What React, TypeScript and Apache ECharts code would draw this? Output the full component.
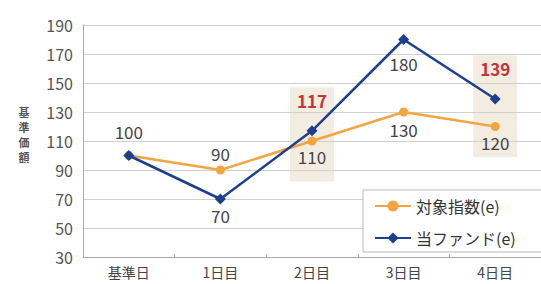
import React, { useEffect, useRef } from "react";
import * as echarts from "echarts";

const categories = ["基準日", "1日目", "2日目", "3日目", "4日目"];
const indexName = "対象指数(e)";
const fundName = "当ファンド(e)";
const indexValues = [100, 90, 110, 130, 120];
const fundValues = [100, 70, 117, 180, 139];
const yMin = 30;
const yMax = 190;
const yStep = 20;
const yAxisTitle = "基準価額";

// label placement (style only)
const indexLabelPos = [
  { position: "top", distance: 11 },
  { position: "top", distance: 4 },
  { position: "bottom", distance: 2 },
  { position: "bottom", distance: 4 },
  { position: "bottom", distance: 3 },
];
const fundLabelPos = [
  null,
  { position: "bottom", distance: 2 },
  { position: "top", distance: 16, red: true },
  { position: "bottom", distance: 10 },
  { position: "top", distance: 16, red: true },
];
const highlightBoxes = [
  { cat: "2日目", top: 147, bottom: 82 },
  { cat: "4日目", top: 169, bottom: 99 },
];

const FONT = "'Noto Sans CJK JP', 'Noto Sans', sans-serif";
const ORANGE = "#f2a541";
const BLUE = "#1c3f8e";
const RED = "#c8303a";
const TEXT = "#444";

export default function App() {
  const ref = useRef<HTMLDivElement>(null);
  useEffect(() => {
    if (!ref.current) return;
    const chart = echarts.init(ref.current, undefined, { renderer: "svg" });
    const option: any = {
      animation: false,
      textStyle: { fontFamily: FONT },
      grid: { left: 83, right: -9, top: 25, bottom: 27, containLabel: false },
      xAxis: {
        type: "category",
        data: categories,
        boundaryGap: true,
        axisLine: { lineStyle: { color: "#aaa", width: 1 } },
        axisTick: { show: true, length: 3, inside: true, lineStyle: { color: "#aaa" } },
        axisLabel: { color: TEXT, fontSize: 14, margin: 8, fontFamily: FONT },
      },
      yAxis: {
        type: "value",
        min: yMin,
        max: yMax,
        interval: yStep,
        axisLine: { show: true, lineStyle: { color: "#aaa", width: 1 } },
        axisTick: { show: false },
        axisLabel: { color: "#555", fontSize: 16, margin: 10, fontFamily: FONT },
        splitLine: { lineStyle: { color: "#d0d0d0", width: 1 } },
      },
      legend: {
        orient: "vertical",
        left: 363,
        top: 190,
        padding: [8, 40, 6, 11],
        itemGap: 16,
        itemWidth: 36,
        itemHeight: 14,
        backgroundColor: "#fff",
        borderColor: "#bbb",
        borderWidth: 1,
        textStyle: { color: "#333", fontSize: 16, fontFamily: FONT },
        data: [indexName, fundName],
      },
      series: [
        {
          name: indexName,
          type: "line",
          z: 3,
          data: indexValues.map((v, i) => ({
            value: v,
            label: {
              show: true,
              position: indexLabelPos[i].position,
              distance: indexLabelPos[i].distance,
            },
          })),
          symbol: "circle",
          symbolSize: 9,
          lineStyle: { color: ORANGE, width: 2.5 },
          itemStyle: { color: ORANGE },
          label: { color: TEXT, fontSize: 17, fontFamily: FONT },
        },
        {
          name: fundName,
          type: "line",
          z: 4,
          data: fundValues.map((v, i) => {
            const p = fundLabelPos[i];
            return {
              value: v,
              label: p
                ? {
                    show: true,
                    position: p.position,
                    distance: p.distance,
                    color: (p as any).red ? RED : TEXT,
                    fontWeight: (p as any).red ? "bold" : "normal",
                  }
                : { show: false },
            };
          }),
          symbol: "diamond",
          symbolSize: 11,
          lineStyle: { color: BLUE, width: 2.5 },
          itemStyle: { color: BLUE },
          label: { color: TEXT, fontSize: 17, fontFamily: FONT },
        },
      ],
    };
    chart.setOption(option);

    const rects = highlightBoxes.map((b) => {
      const pTop = chart.convertToPixel({ gridIndex: 0 }, [b.cat, b.top]) as number[];
      const pBot = chart.convertToPixel({ gridIndex: 0 }, [b.cat, b.bottom]) as number[];
      return {
        type: "rect",
        z: -10,
        shape: { x: pTop[0] - 22, y: pTop[1], width: 44, height: pBot[1] - pTop[1] },
        style: { fill: "rgba(228, 214, 188, 0.45)" },
      };
    });
    const chars = yAxisTitle.split("");
    const titleTexts = chars.map((ch, i) => ({
      type: "text",
      x: 24,
      y: 134 + (i - (chars.length - 1) / 2) * 15,
      style: {
        text: ch,
        fill: "#555",
        font: `bold 11px ${FONT}`,
        align: "center",
        verticalAlign: "middle",
      },
    }));
    chart.setOption({ graphic: [...rects, ...titleTexts] });
    return () => chart.dispose();
  }, []);
  return <div ref={ref} style={{ width: 541, height: 284, position: "absolute", left: 0, top: 0 }} />;
}
